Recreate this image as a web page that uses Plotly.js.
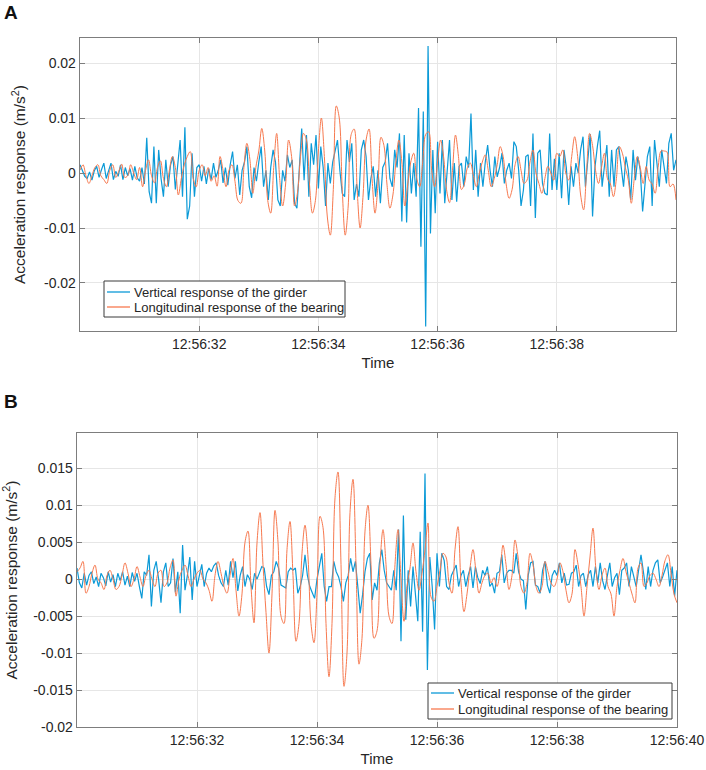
<!DOCTYPE html>
<html>
<head>
<meta charset="utf-8">
<script src="https://cdn.plot.ly/plotly-3.0.1.min.js"></script>
<style>html,body{margin:0;padding:0;background:#fff;}#chart{width:706px;height:770px;}</style>
</head>
<body>
<div id="chart"></div>
<script>
// ---------------- DATA (values in 10^-3 m/s^2) ----------------
const startTime = "2021-01-01 12:56:30";   // first sample
const girderStepMs = 40;                   // sample spacing, vertical girder series
const bearingStepMs = 50;                  // sample spacing, bearing series
const valueScale = 1e-3;                   // stored values are in 10^-3 m/s^2

const seriesNames = ["Vertical response of the girder", "Longitudinal response of the bearing"];

// Panel A
const girderA = [
1.5,0.3,-0.6,-1.0,0.2,-1.3,0.4,1.2,-0.8,0.6,1.8,-1.0,0.5,1.8,-1.2,0.3,-0.6,1.5,-1.2,1.0,-0.5,0.8,-1.3,1.2,-0.9,
-1.5,1.0,-2.0,6.4,-3.4,-5.5,4.8,-5.5,4.2,-1.0,-4.3,2.4,-2.5,1.5,3.0,-3.0,1.0,6.0,-4.3,8.3,-8.4,-6.0,3.6,-4.3,1.0,
1.5,-1.5,1.2,-2.0,0.8,-1.2,1.8,-0.8,0.5,2.4,-1.8,1.0,-2.2,1.5,3.9,-1.0,1.5,-4.0,0.5,2.0,4.8,-2.5,-4.5,1.0,-1.5,
2.0,4.8,-2.5,0.5,-4.9,1.0,4.2,2.0,-4.9,-6.0,0.5,-1.5,3.3,1.0,2.4,-5.5,-6.4,2.0,8.1,-1.3,6.9,-4.3,5.4,1.5,6.9,
-2.8,4.8,1.0,-6.0,1.8,-1.9,2.0,4.2,6.0,0.5,-3.7,-4.3,6.0,2.0,5.4,-4.9,-2.0,-4.3,4.2,6.0,3.0,-4.9,-1.0,1.2,-4.3,
0.5,-5.5,1.0,2.0,5.4,-1.0,-2.5,4.2,1.0,7.2,-8.8,6.9,-9.0,3.6,-3.7,1.8,-4.3,11.8,-13.4,11.2,-27.9,23.1,-11.0,4.2,-7.3,
5.7,-3.7,6.0,-5.5,1.2,6.0,-4.9,1.8,-5.2,1.2,1.8,-2.5,3.0,1.0,10.8,-3.1,4.2,-4.3,1.8,-2.5,2.0,5.1,0.5,-2.5,3.0,
-0.7,1.0,3.6,-1.9,0.5,1.8,-1.0,5.7,4.8,0.5,-6.0,-3.1,3.0,3.3,-6.0,7.2,-8.2,3.6,4.2,-1.9,-3.7,-4.0,7.2,-3.1,2.6,
-3.1,3.6,-4.6,4.2,1.0,-5.8,1.2,-2.5,1.8,0.0,4.2,6.6,-2.5,3.0,7.1,-7.9,1.0,4.8,7.7,-2.5,1.2,5.1,-4.3,4.2,-2.5,
4.2,4.8,0.5,-2.5,3.0,0.5,-4.9,4.2,-1.3,3.0,0.5,-7.0,-2.0,3.0,4.8,-6.0,6.0,1.0,-2.5,4.2,1.0,-1.9,5.4,7.2,0.5,2.4
];
const bearingA = [
0.5,1.5,-0.5,-1.9,-0.5,1.0,1.5,-0.5,-1.2,-1.9,0.5,1.5,-0.8,0.3,1.6,-0.8,-0.5,1.5,0.0,-1.2,
1.0,-2.5,0.5,2.4,-0.5,-1.8,1.0,2.2,-1.0,-2.5,0.5,3.0,1.0,-4.0,-1.0,1.5,3.0,3.9,-1.0,-2.5,
0.5,1.5,-0.5,1.0,-1.5,-0.5,-2.4,3.0,0.5,-2.5,0.5,1.5,-1.5,-5.0,-5.5,1.0,5.4,2.5,-3.7,1.0,
4.0,8.1,4.0,-5.0,-7.3,1.0,7.2,-1.0,-6.0,-2.0,6.0,3.0,-6.0,-3.5,3.0,7.2,6.0,-2.0,-7.3,-5.0,
4.0,10.0,3.0,-8.0,-11.3,-3.0,12.2,10.0,-3.0,-11.3,-6.0,7.0,8.0,-3.0,-10.0,-4.0,6.0,8.0,-1.0,-7.3,
-2.0,6.5,5.0,-2.0,-6.4,-4.0,2.0,6.0,2.0,-6.0,-2.0,2.0,3.6,-1.0,-2.5,2.0,7.0,7.5,0.5,-2.5,
2.0,6.0,3.0,-3.0,-5.4,0.5,6.9,3.0,-3.0,-2.0,1.0,1.8,-0.5,-2.5,0.0,2.0,3.3,0.5,-2.5,-1.0,
1.5,4.8,3.0,-2.0,-4.6,-3.0,1.5,3.0,0.5,-1.9,-1.3,2.0,4.2,0.0,-1.9,-3.7,-1.0,1.2,0.0,-1.3,
3.6,3.0,4.2,0.0,-1.3,3.0,6.6,3.0,-4.0,-6.7,0.5,7.2,5.0,0.5,-1.9,1.0,3.6,-1.0,-2.0,-4.3,
-1.0,4.8,3.6,1.0,-1.3,-5.5,-1.0,3.0,1.0,-1.9,1.2,-1.3,-2.0,-3.7,1.0,4.0,4.0,3.8,-2.5,-2.0,-4.9
];

// Panel B
const girderB = [
1.5,-0.5,-1.2,0.8,-0.8,0.5,1.0,-0.6,0.3,-1.0,0.8,0.2,-0.9,1.0,-0.4,0.6,-1.0,0.8,-0.2,1.0,-0.8,0.4,-1.0,0.9,-0.3,
0.8,-1.0,-2.6,1.0,0.5,3.3,-3.7,1.2,2.4,0.0,-3.2,1.0,2.2,-1.0,-0.5,2.8,-1.8,1.0,-4.6,4.6,-1.5,0.5,3.0,-2.8,2.4,
-1.0,0.5,2.0,-1.0,0.8,1.5,1.0,1.8,2.2,0.5,-0.5,-1.0,1.2,-0.8,2.4,0.2,2.4,-1.6,0.5,1.7,-1.0,0.6,0.0,-1.4,0.8,
0.0,1.0,1.7,1.5,-1.0,-2.1,0.5,1.0,2.4,1.5,-0.8,-1.0,-1.2,1.0,1.5,1.2,1.5,-1.9,-1.0,0.5,3.3,0.5,-1.0,-1.8,-2.6,
0.0,2.0,3.5,-1.0,-3.0,-1.0,-1.0,2.4,1.0,0.3,-1.0,-3.0,-0.5,0.5,2.8,1.0,2.4,-1.0,-4.6,-2.1,1.0,2.8,3.5,-2.8,-0.5,
-1.5,2.2,4.0,1.2,-0.5,-1.0,-1.5,1.2,-1.5,6.7,-8.4,8.6,-5.5,1.2,-3.7,1.7,-1.5,-5.7,6.4,-7.1,14.3,-12.3,3.0,-1.0,-6.8,
3.5,-1.0,3.5,2.5,-1.0,-1.4,0.5,1.2,1.9,-1.0,0.5,1.2,-1.0,0.5,1.7,-1.2,1.7,0.2,-0.6,1.2,0.5,1.7,-1.0,-0.5,-1.9,
0.8,1.0,3.3,-0.5,0.8,1.2,1.2,0.8,3.5,1.0,0.0,-0.2,-4.1,0.5,2.2,2.4,-0.8,-1.0,-1.9,1.2,2.4,-0.8,-1.9,0.5,1.2,
0.5,2.2,-0.5,0.8,-0.8,-0.7,0.8,1.0,1.9,-1.0,0.5,0.8,-1.0,0.6,1.2,-1.0,1.7,-0.5,2.2,-0.2,-1.4,0.5,2.2,-1.0,0.2,
0.8,-2.1,1.2,1.5,2.2,-1.0,1.7,0.5,-1.0,1.2,3.3,1.0,-1.4,1.7,-1.0,1.2,2.2,2.6,-0.5,0.3,1.2,2.2,-1.0,1.7,-2.3,1.2
];
const bearingB = [
1.0,1.5,2.4,-1.9,-1.0,0.8,1.9,0.0,-0.5,-1.4,0.5,1.2,0.0,-1.4,-1.0,0.5,2.2,0.8,-1.0,0.0,
1.7,0.3,-1.0,0.5,1.2,0.0,-1.0,0.8,1.2,-1.0,-0.5,1.5,2.6,-2.3,0.0,1.2,1.9,0.5,-1.0,0.0,
0.8,1.2,0.0,-0.5,-1.5,-3.0,0.5,2.4,0.8,-1.0,-1.9,0.5,2.8,-1.5,-5.0,-2.0,5.0,6.5,-1.0,-5.9,
4.9,9.0,2.0,-4.5,-10.0,-2.0,9.3,5.0,-5.0,-6.0,4.0,7.8,0.5,-8.4,-6.0,3.5,7.3,3.0,-6.0,-8.6,
-2.0,8.5,7.0,-6.0,-13.2,-6.0,11.0,14.5,2.0,-14.5,-10.0,9.0,13.5,2.0,-11.5,-8.0,6.5,10.0,2.0,-8.0,
-7.0,2.0,6.7,2.0,-5.0,-6.0,2.0,6.7,0.0,-5.7,-1.0,1.5,4.9,1.0,-1.5,0.8,4.0,7.6,-2.4,-3.0,
-1.0,1.2,3.5,3.0,-0.5,-1.9,4.0,7.1,-0.5,-4.4,-2.0,1.5,4.0,1.0,-1.9,-0.5,0.5,0.8,-0.5,0.2,
-1.0,1.0,4.6,2.0,-1.4,0.5,5.3,3.0,-1.0,-1.9,-0.5,3.5,2.0,-1.0,-1.9,-1.0,2.4,1.0,-0.5,-1.0,
0.0,2.2,1.0,-1.5,-3.2,-2.0,4.0,2.0,-1.0,-5.0,-1.0,3.0,6.9,1.2,-1.4,0.5,1.5,-1.0,-2.0,-5.0,
-1.0,1.2,2.8,1.0,-0.5,-2.0,-3.2,1.5,2.2,-1.0,-0.5,0.5,0.8,0.0,-1.0,0.5,2.5,3.3,0.8,-2.0,-3.2
];

// Tick labels
const timeTicksA = ["12:56:32","12:56:34","12:56:36","12:56:38"];
const timeTicksB = ["12:56:32","12:56:34","12:56:36","12:56:38","12:56:40"];
const yTickValsA = [-0.02,-0.01,0,0.01,0.02];
const yTickTextA = ["-0.02","-0.01","0","0.01","0.02"];
const yTickValsB = [-0.02,-0.015,-0.01,-0.005,0,0.005,0.01,0.015];
const yTickTextB = ["-0.02","-0.015","-0.01","-0.005","0","0.005","0.01","0.015"];

// ---------------- helpers ----------------
const baseMs = Date.parse(startTime.replace(" ", "T") + "Z");
function stamp(ms){ return new Date(ms).toISOString().replace("T"," ").replace("Z",""); }
function times(n, step){ const out=[]; for(let i=0;i<n;i++) out.push(stamp(baseMs + i*step)); return out; }
function scaled(arr){ return arr.map(v => v*valueScale); }
const datePart = startTime.split(" ")[0];
function tickDates(labels){ return labels.map(l => datePart + " " + l); }

const W = 706, H = 770;
const px = x => x / W;
const py = y => 1 - y / H;

const blue = "#0b9ad7";
const orange = "#f7794f";
const colors = [blue, orange];
const font = "Liberation Sans, Arial, Helvetica, sans-serif";
const ink = "#262626";
const frame = "#7d7d7d";

const traces = [
  {x: times(girderA.length, girderStepMs), y: scaled(girderA), xaxis:"x", yaxis:"y", mode:"lines",
   name: seriesNames[0], showlegend:false, line:{color:blue, width:1.2}},
  {x: times(bearingA.length, bearingStepMs), y: scaled(bearingA), xaxis:"x", yaxis:"y", mode:"lines",
   name: seriesNames[1], showlegend:false, line:{color:orange, width:1.0, shape:"spline", smoothing:1}},
  {x: times(girderB.length, girderStepMs), y: scaled(girderB), xaxis:"x2", yaxis:"y2", mode:"lines",
   name: seriesNames[0], showlegend:false, line:{color:blue, width:1.2}},
  {x: times(bearingB.length, bearingStepMs), y: scaled(bearingB), xaxis:"x2", yaxis:"y2", mode:"lines",
   name: seriesNames[1], showlegend:false, line:{color:orange, width:1.0, shape:"spline", smoothing:1}}
];

function xAxis(domain, anchor, labels){
  return {
    domain: domain, anchor: anchor, type:"date",
    range: [stamp(baseMs), stamp(baseMs + 10000)],
    tickmode:"array", tickvals: tickDates(labels), ticktext: labels,
    ticks:"inside", ticklen:5, tickwidth:1, tickcolor:frame,
    showline:true, linecolor:frame, linewidth:1.3, mirror:"ticks",
    showgrid:true, gridcolor:"#e6e6e6", gridwidth:1, zeroline:false,
    tickfont:{family:font, size:14, color:ink},
    title:{text:"Time", font:{family:font, size:15, color:ink}, standoff:6}
  };
}
function yAxis(domain, anchor, range, vals, text){
  return {
    domain: domain, anchor: anchor, range: range,
    tickmode:"array", tickvals: vals, ticktext: text,
    ticks:"inside", ticklen:5, tickwidth:1, tickcolor:frame,
    showline:true, linecolor:frame, linewidth:1.3, mirror:"ticks",
    showgrid:true, gridcolor:"#e6e6e6", gridwidth:1, zeroline:false,
    tickfont:{family:font, size:14, color:ink},
    title:{text:"Acceleration response (m/s<sup>2</sup>)", font:{family:font, size:15.5, color:ink}, standoff:14}
  };
}

// Legend boxes (pixel boxes of the reference legends), drawn as shapes + text
function legendBox(left, top, right, bottom, textLeft, rowY){
  const shapes = [{type:"rect", xref:"paper", yref:"paper", x0:px(left), x1:px(right), y0:py(bottom), y1:py(top),
                   line:{color:"#3a3a3a", width:1}, fillcolor:"#ffffff", layer:"above"}];
  const notes = [];
  rowY.forEach((y, k) => {
    shapes.push({type:"line", xref:"paper", yref:"paper", x0:px(left+3), x1:px(textLeft-2), y0:py(y), y1:py(y),
                 line:{color:colors[k], width:1.3}, layer:"above"});
    notes.push({text:seriesNames[k], xref:"paper", yref:"paper", x:px(textLeft), y:py(y), xanchor:"left", yanchor:"middle",
                showarrow:false, font:{family:font, size:13, color:ink}});
  });
  return {shapes, notes};
}
const legA = legendBox(104, 281, 345, 317, 132, [292, 307]);
const legB = legendBox(428, 683, 672, 719, 456, [693, 709]);

const layout = {
  width: W, height: H,
  margin:{l:0, r:0, t:0, b:0},
  paper_bgcolor:"#ffffff", plot_bgcolor:"#ffffff",
  font:{family:font, color:ink},
  showlegend:false,
  xaxis:  xAxis([px(80), px(676)], "y", timeTicksA),
  yaxis:  yAxis([py(331), py(38)], "x", [-0.02873, 0.02455], yTickValsA, yTickTextA),
  xaxis2: xAxis([px(77), px(677)], "y2", timeTicksB),
  yaxis2: yAxis([py(727), py(433)], "x2", [-0.02, 0.01977], yTickValsB, yTickTextB),
  shapes: legA.shapes.concat(legB.shapes),
  annotations: [
    {text:"<b>A</b>", xref:"paper", yref:"paper", x:px(2), y:py(12), xanchor:"left", yanchor:"middle",
     showarrow:false, font:{family:font, size:19, color:"#111"}},
    {text:"<b>B</b>", xref:"paper", yref:"paper", x:px(2), y:py(401), xanchor:"left", yanchor:"middle",
     showarrow:false, font:{family:font, size:19, color:"#111"}}
  ].concat(legA.notes, legB.notes)
};

Plotly.newPlot("chart", traces, layout, {displayModeBar:false, staticPlot:true});
</script>
</body>
</html>
